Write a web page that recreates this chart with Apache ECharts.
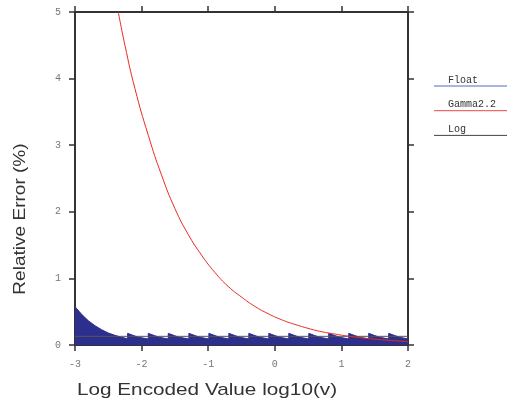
<!DOCTYPE html>
<html><head><meta charset="utf-8">
<script src="https://cdn.jsdelivr.net/npm/echarts@6/dist/echarts.min.js"></script>
<style>html,body{margin:0;padding:0;background:#fff}#c{width:507px;height:403px}</style>
</head><body><div id="c"></div>
<script>
const xTicks = [-3, -2, -1, 0, 1, 2];
const yTicks = [0, 1, 2, 3, 4, 5];
const seriesNames = ['Float', 'Gamma2.2', 'Log'];
const floatPoints = [
  [-3,0.575],[-2.9,0.46],[-2.8,0.365],[-2.7,0.29],[-2.6,0.23],[-2.5,0.18],[-2.4,0.145],[-2.3,0.115],[-2.21,0.095],
  [-2.21,0.175],[-2.18,0.175],[-2.18,0.15],[-2.06,0.12],[-1.90,0.09],
  [-1.90,0.175],[-1.87,0.175],[-1.87,0.15],[-1.75,0.12],[-1.60,0.09],
  [-1.60,0.175],[-1.57,0.175],[-1.57,0.15],[-1.45,0.12],[-1.29,0.09],
  [-1.29,0.175],[-1.26,0.175],[-1.26,0.15],[-1.14,0.12],[-0.99,0.09],
  [-0.99,0.175],[-0.96,0.175],[-0.96,0.15],[-0.84,0.12],[-0.69,0.09],
  [-0.69,0.175],[-0.66,0.175],[-0.66,0.15],[-0.54,0.12],[-0.39,0.09],
  [-0.39,0.175],[-0.36,0.175],[-0.36,0.15],[-0.24,0.12],[-0.09,0.09],
  [-0.09,0.175],[-0.06,0.175],[-0.06,0.15],[0.06,0.12],[0.21,0.09],
  [0.21,0.175],[0.24,0.175],[0.24,0.15],[0.36,0.12],[0.51,0.09],
  [0.51,0.175],[0.54,0.175],[0.54,0.15],[0.66,0.12],[0.81,0.09],
  [0.81,0.175],[0.84,0.175],[0.84,0.15],[0.96,0.12],[1.11,0.09],
  [1.11,0.175],[1.14,0.175],[1.14,0.15],[1.26,0.12],[1.41,0.09],
  [1.41,0.175],[1.44,0.175],[1.44,0.15],[1.56,0.12],[1.71,0.09],
  [1.71,0.175],[1.74,0.175],[1.74,0.15],[1.86,0.12],[2.0,0.09]
];
const gammaX = [-2.35,-2.25,-2.1,-1.9,-1.7,-1.5,-1.3,-1.1,-0.9,-0.7,-0.5,-0.3,-0.1,0.1,0.3,0.5,0.7,0.9,1.1,1.3,1.5,1.7,2.0];
const gammaY = [5.0,4.5,3.85,3.15,2.55,2.05,1.66,1.35,1.09,0.88,0.72,0.58,0.47,0.38,0.31,0.25,0.20,0.165,0.133,0.108,0.088,0.071,0.052];
const logX = [-3, 2];
const logY = [0.13, 0.13];

const colors = { Float: '#2c2f8e', Gamma: '#e82a22', Log: '#555555' };
const legendColors = ['#5566cc', '#ee4444', '#444444'];

const chart = echarts.init(document.getElementById('c'));
const tickFont = { fontFamily: 'Liberation Mono', fontSize: 10, color: '#777' };
const axisLine = { show: true, onZero: false, lineStyle: { color: '#333', width: 2 } };
const axisTick = { show: true, inside: false, length: 6, lineStyle: { color: '#333', width: 1.5 } };

const legendGraphics = [];
seriesNames.forEach((n, i) => {
  const y = 86 + i * 24.7;
  legendGraphics.push({ type: 'text', x: 448, y: y - 11, style: { text: n, fontFamily: 'Liberation Mono', fontSize: 10, fill: '#333' } });
  legendGraphics.push({ type: 'line', shape: { x1: 434, y1: y, x2: 507, y2: y }, style: { stroke: legendColors[i], lineWidth: 1 } });
});

chart.setOption({
  animation: false,
  grid: { left: 75, top: 12, width: 333, height: 333 },
  xAxis: [
    { type: 'value', min: -3, max: 2, interval: 1, position: 'bottom', axisLine, axisTick, splitLine: { show: false },
      axisLabel: Object.assign({ margin: 14, formatter: v => xTicks.includes(v) ? String(v) : '' }, tickFont) },
    { type: 'value', min: -3, max: 2, interval: 1, position: 'top', axisLine, axisTick, splitLine: { show: false }, axisLabel: { show: false } }
  ],
  yAxis: [
    { type: 'value', min: 0, max: 5, interval: 1, position: 'left', axisLine, axisTick, splitLine: { show: false },
      axisLabel: Object.assign({ margin: 14, formatter: v => yTicks.includes(v) ? String(v) : '' }, tickFont) },
    { type: 'value', min: 0, max: 5, interval: 1, position: 'right', axisLine, axisTick, splitLine: { show: false }, axisLabel: { show: false } }
  ],
  series: [
    { name: 'Float', type: 'line', data: floatPoints, showSymbol: false, symbol: 'none',
      lineStyle: { color: colors.Float, width: 1 }, areaStyle: { color: colors.Float, opacity: 1 }, z: 2 },
    { name: 'Log', type: 'line', data: logX.map((x, i) => [x, logY[i]]), showSymbol: false, symbol: 'none',
      lineStyle: { color: colors.Log, width: 1 }, z: 3 },
    { name: 'Gamma2.2', type: 'line', data: gammaX.map((x, i) => [x, gammaY[i]]), smooth: true, showSymbol: false, symbol: 'none',
      lineStyle: { color: colors.Gamma, width: 1 }, z: 4 }
  ],
  graphic: [
    { type: 'text', rotation: Math.PI / 2, x: 20, y: 219, scaleX: 1.12,
      style: { text: 'Relative Error (%)', fontFamily: 'Liberation Sans', fontSize: 17, fill: '#333', align: 'center', verticalAlign: 'middle' } },
    { type: 'text', x: 207, y: 390, scaleX: 1.22,
      style: { text: 'Log Encoded Value log10(v)', fontFamily: 'Liberation Sans', fontSize: 17, fill: '#333', align: 'center', verticalAlign: 'middle' } }
  ].concat(legendGraphics)
});
</script>
</body></html>
